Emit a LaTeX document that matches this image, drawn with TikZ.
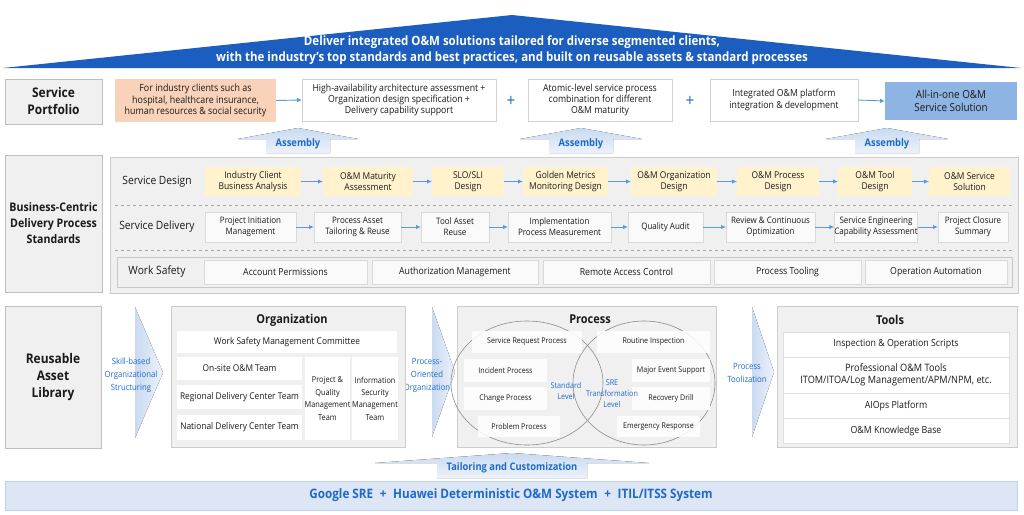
\documentclass[tikz,border=0pt]{standalone}
\usepackage{fontspec}
\setmainfont{Open Sans}[FakeStretch=0.9]
\usetikzlibrary{arrows.meta}
\definecolor{bannerblue}{HTML}{1C5EC0}
\definecolor{txtblue}{HTML}{1F6AC9}
\definecolor{lgray}{HTML}{F0F0F0}
\definecolor{bgray}{HTML}{BFBFBF}
\definecolor{ylw}{HTML}{FFF2CC}
\definecolor{peach}{HTML}{F8CBAD}
\definecolor{solblue}{HTML}{8EB4E3}
\definecolor{arrblue}{HTML}{5B9BD5}
\definecolor{paleA}{HTML}{C9DAF1}
\definecolor{paleB}{HTML}{EDF2FA}
\definecolor{barfill}{HTML}{DCE6F5}
\definecolor{barline}{HTML}{BDD0EC}
\definecolor{txtdark}{HTML}{1A1A1A}
\newcommand\fz[2]{\fontsize{#1}{#2}\selectfont}
\newcommand\bx[7]{\node[#1,minimum width={(#4-#2)*1pt},minimum height={(#5-#3)*1pt}] (#6) at ({(#2+#4)/2},{(#3+#5)/2}) {#7};}
\newcommand\bigup[7]{% cx, ytop, ybase, ybot, half head, half shaft, name
  \fill[top color=paleA,bottom color=paleB] ({#1-#6},#4) -- ({#1-#6},#3) -- ({#1-#5},#3) -- (#1,#2) -- ({#1+#5},#3) -- ({#1+#6},#3) -- ({#1+#6},#4) -- cycle;
  \coordinate (#7) at (#1,#2);}
\newcommand\chev[5]{% xl, xt, ytop, ybot, name
  \fill[left color=paleA,right color=paleB] (#1,#3) -- (#2,{(#3+#4)/2}) -- (#1,#4) -- cycle;
  \coordinate (#5) at (#2,{(#3+#4)/2});}
\begin{document}
\begin{tikzpicture}[x=1pt,y=-1pt,
  base/.style={inner sep=0pt,outer sep=0pt,align=center,text=txtdark,font=\fz{8}{10.5}},
  lab/.style={base,fill=lgray,draw=bgray,line width=0.8pt,font=\bfseries\fz{13.3}{17}},
  peachbox/.style={base,fill=peach!85,font=\fz{9.9}{11.3}},
  wbox/.style={base,fill=white,draw=black!18,line width=0.6pt,font=\fz{9.7}{11.3}},
  solbox/.style={base,fill=solblue,font=\fz{11}{13}},
  plus/.style={inner sep=0pt,text=txtblue,font=\fz{17}{17}},
  sarrow/.style={draw=arrblue,line width=0.9pt,-{Latex[length=5pt,width=4.5pt]}},
  cont/.style={fill=lgray,draw=black!20,line width=0.8pt},
  sdbox/.style={base,fill=ylw,font=\fz{9.4}{11}},
  dlbox/.style={base,fill=black!2,draw=black!15,line width=0.6pt,font=\fz{8.9}{11}},
  wsbox/.style={base,fill=black!2,draw=black!15,line width=0.6pt,font=\fz{9.7}{11}},
  rowlab/.style={base,font=\fz{11.4}{13}},
  ctitle/.style={base,font=\bfseries\fz{12.2}{14}},
  orgbox/.style={base,fill=white,font=\fz{9.3}{12.5}},
  prbox/.style={base,fill=white,fill opacity=0.85,text opacity=1,font=\fz{7.9}{10}},
  tlbox/.style={base,fill=white,draw=black!12,line width=0.6pt,font=\fz{9.8}{12}},
  btext/.style={inner sep=0pt,align=center,text=txtblue,font=\fz{8.6}{13}},
  bbtext/.style={inner sep=0pt,align=center,text=txtblue,font=\bfseries\fz{10.4}{12}},
  ell/.style={draw=black!45,line width=0.6pt}
]
\useasboundingbox (0,0) rectangle (1024,514);
\fill[white] (0,0) rectangle (1024,514);

% ---------- banner
\fill[bannerblue] (3,68) -- (512,15) -- (1021,68) -- cycle;
\node[inner sep=0pt,align=center,text=white,font=\bfseries\fz{12.8}{16}] (banner) at (512,50)
  {Deliver integrated O\&M solutions tailored for diverse segmented clients,\\with the industry's top standards and best practices, and built on reusable assets \& standard processes};

% ---------- row 1: service portfolio
\bx{lab}{5}{79}{102}{124}{sp}{Service\\Portfolio}
\bx{peachbox}{115}{79}{276}{122}{p1}{For industry clients such as\\hospital, healthcare insurance,\\human resources \& social security}
\bx{wbox}{302}{79}{496}{121}{p2}{High-availability architecture assessment +\\Organization design specification +\\Delivery capability support}
\node[plus] (pl1) at (511,101) {+};
\bx{wbox}{528}{79}{672}{121}{p3}{Atomic-level service process\\combination for different\\O\&M maturity}
\node[plus] (pl2) at (690,101) {+};
\bx{wbox}{710}{79}{858}{121}{p4}{Integrated O\&M platform\\integration \& development}
\bx{solbox}{885}{82}{1017}{120}{p5}{All-in-one O\&M\\Service Solution}
\draw[sarrow] (p1.east) -- (p2.west);
\draw[sarrow] (p4.east) -- (p5.west);

\bigup{298}{128}{139}{153}{60}{32}{as1}
\bigup{581}{128}{139}{153}{61}{32}{as2}
\bigup{887}{128}{139}{153}{61}{32}{as3}
\node[bbtext] (at1) at (298,144) {Assembly};
\node[bbtext] (at2) at (581,144) {Assembly};
\node[bbtext] (at3) at (887,144) {Assembly};

% ---------- row 2: process standards
\bx{lab,font=\bfseries\fz{11.8}{16}}{5}{155}{102}{292}{bc}{Business-Centric\\Delivery Process\\Standards}
\draw[cont] (110,157) rectangle (1018,293);
\node[rowlab] (lsd) at (157,182) {Service Design};
\node[rowlab] (lsv) at (157,227) {Service Delivery};
\draw[black!35,dashed,line width=0.6pt] (115,205) -- (1014,205);
\draw[black!35,dashed,line width=0.6pt] (115,250) -- (1014,250);

\bx{sdbox}{205}{167}{301}{196}{d1}{Industry Client\\Business Analysis}
\bx{sdbox}{323}{167}{413}{196}{d2}{O\&M Maturity\\Assessment}
\bx{sdbox}{432}{167}{504}{196}{d3}{SLO/SLI\\Design}
\bx{sdbox}{523}{167}{608}{196}{d4}{Golden Metrics\\Monitoring Design}
\bx{sdbox}{631}{167}{717}{196}{d5}{O\&M Organization\\Design}
\bx{sdbox}{737}{167}{819}{196}{d6}{O\&M Process\\Design}
\bx{sdbox}{838}{167}{912}{196}{d7}{O\&M Tool\\Design}
\bx{sdbox}{929}{167}{1010}{196}{d8}{O\&M Service\\Solution}
\foreach \a/\b in {d1/d2,d2/d3,d3/d4,d4/d5,d5/d6,d6/d7,d7/d8}
  \draw[sarrow] (\a.east) -- (\b.west);

\bx{dlbox}{205}{212}{296}{242}{v1}{Project Initiation\\Management}
\bx{dlbox}{314}{212}{401}{242}{v2}{Process Asset\\Tailoring \& Reuse}
\bx{dlbox}{421}{212}{489}{242}{v3}{Tool Asset\\Reuse}
\bx{dlbox}{508}{212}{611}{242}{v4}{Implementation\\Process Measurement}
\bx{dlbox}{628}{212}{703}{242}{v5}{Quality Audit}
\bx{dlbox}{726}{212}{815}{242}{v6}{Review \& Continuous\\Optimization}
\bx{dlbox}{835}{212}{917}{242}{v7}{Service Engineering\\Capability Assessment}
\bx{dlbox}{938}{212}{1008}{242}{v8}{Project Closure\\Summary}
\foreach \a/\b in {v1/v2,v2/v3,v3/v4,v4/v5,v5/v6,v6/v7,v7/v8}
  \draw[sarrow] (\a.east) -- (\b.west);

\draw[fill=black!6,draw=black!22,line width=0.8pt] (117,257) rectangle (1012,287);
\node[rowlab] (lws) at (157,272) {Work Safety};
\bx{wsbox}{204}{260}{367}{284}{w1}{Account Permissions}
\bx{wsbox}{372}{260}{538}{284}{w2}{Authorization Management}
\bx{wsbox}{543}{260}{710}{284}{w3}{Remote Access Control}
\bx{wsbox}{714}{260}{861}{284}{w4}{Process Tooling}
\bx{wsbox}{865}{260}{1007}{284}{w5}{Operation Automation}

% ---------- row 3: reusable asset library
\bx{lab}{5}{306}{101}{448}{ra}{Reusable\\Asset\\Library}

\chev{135}{163}{307}{438}{ch1}
\node[btext] (c1t) at (131,375) {Skill-based\\Organizational\\Structuring};
\chev{432}{455}{307}{437}{ch2}
\node[btext] (c2t) at (427,375) {Process-\\Oriented\\Organization};
\chev{752}{774}{307}{437}{ch3}
\node[btext] (c3t) at (747,373) {Process\\Toolization};

% organization
\draw[cont] (171,306) rectangle (405,447);
\node[ctitle] (otitle) at (292,320) {Organization};
\bx{orgbox}{177}{331}{397}{353}{o1}{Work Safety Management Committee}
\bx{orgbox}{177}{357}{302}{380}{o2}{On-site O\&M Team}
\bx{orgbox}{177}{385}{302}{409}{o3}{Regional Delivery Center Team}
\bx{orgbox}{177}{415}{302}{440}{o4}{National Delivery Center Team}
\bx{orgbox,font=\fz{8.2}{12.4}}{306}{357}{349}{440}{o5}{Project \&\\Quality\\Management\\Team}
\bx{orgbox,font=\fz{8.2}{12.4}}{353}{357}{397}{440}{o6}{Information\\Security\\Management\\Team}

% process
\draw[cont] (457,306) rectangle (716,447);
\node[ctitle] (ptitle) at (590,319) {Process};
\draw[ell] (527,383) ellipse [x radius=76pt,y radius=62pt];
\draw[ell] (644,383) ellipse [x radius=71pt,y radius=62pt];
\bx{prbox}{472}{331}{582}{353}{r1}{Service Request Process}
\bx{prbox}{464}{359}{547}{382}{r2}{Incident Process}
\bx{prbox}{464}{387}{547}{410}{r3}{Change Process}
\bx{prbox}{478}{416}{560}{437}{r4}{Problem Process}
\bx{prbox}{597}{331}{710}{353}{r5}{Routine Inspection}
\bx{prbox}{632}{359}{710}{382}{r6}{Major Event Support}
\bx{prbox}{632}{387}{710}{410}{r7}{Recovery Drill}
\bx{prbox}{617}{416}{700}{437}{r8}{Emergency Response}
\node[inner sep=0pt,align=center,text=txtblue,font=\fz{8}{11.5}] (stdl) at (566,391) {Standard\\Level};
\node[inner sep=0pt,align=center,text=txtblue,font=\fz{8}{11}] (srel) at (612,394) {SRE\\Transformation\\Level};

% tools
\draw[cont] (777,306) rectangle (1017,447);
\node[ctitle] (ttitle) at (890,320) {Tools};
\bx{tlbox}{783}{332}{1009}{357}{t1}{Inspection \& Operation Scripts}
\bx{tlbox,font=\fz{10.2}{12.5}}{783}{357}{1009}{393}{t2}{Professional O\&M Tools\\ITOM/ITOA/Log Management/APM/NPM, etc.}
\bx{tlbox}{783}{393}{1009}{418}{t3}{AIOps Platform}
\bx{tlbox}{783}{418}{1009}{443}{t4}{O\&M Knowledge Base}

% ---------- bottom
\bigup{512}{453}{463}{478}{137}{75}{tc}
\node[bbtext] (tct) at (512,468) {Tailoring and Customization};
\bx{base,fill=barfill,draw=barline,line width=0.8pt,text=txtblue,font=\bfseries\fz{13}{14}}{5}{481}{1017}{510}{bar}{Google SRE \;+\; Huawei Deterministic O\&M System \;+\; ITIL/ITSS System}
\end{tikzpicture}
\end{document}
